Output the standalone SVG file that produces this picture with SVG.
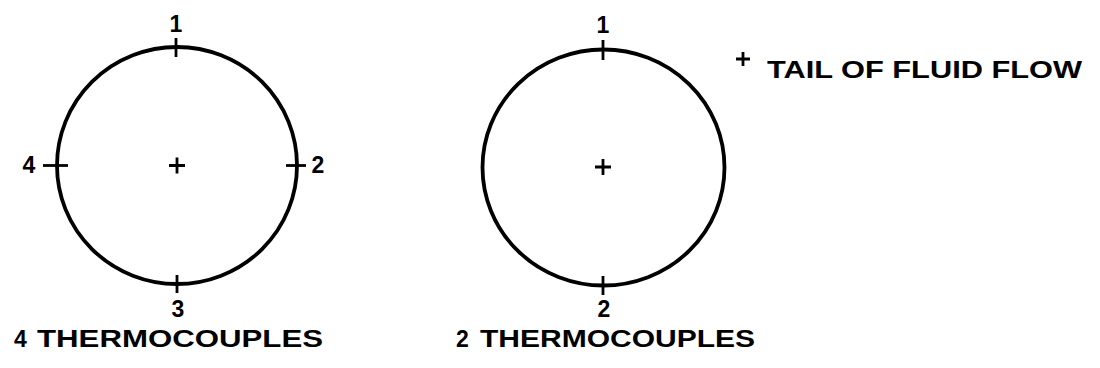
<svg xmlns="http://www.w3.org/2000/svg" width="1100" height="368" viewBox="0 0 1100 368">
<style>
.pipe{fill:none;stroke:#000;stroke-width:3.8}
.tick{stroke:#000;stroke-width:2.8;stroke-linecap:butt}
.lbl{font-family:"Liberation Sans",Arial,sans-serif;font-weight:bold;font-size:23px;fill:#000}
.num{text-anchor:middle}
</style>
<defs>
<path id="plus" d="M-8,0H8M0,-8V8" stroke="#000" stroke-width="2.8"/>
</defs>
<rect width="1100" height="368" fill="#fff"/>
<g id="left-section">
<ellipse class="pipe" cx="177" cy="165.5" rx="120" ry="118.5"/>
<line class="tick" x1="176" y1="38" x2="176" y2="57"/>
<line class="tick" x1="43" y1="165.5" x2="68" y2="165.5"/>
<line class="tick" x1="286" y1="165.5" x2="306" y2="165.5"/>
<line class="tick" x1="177" y1="275" x2="177" y2="293"/>
<use href="#plus" x="177" y="165.5"/>
<text class="lbl num" x="176" y="32">1</text>
<text class="lbl num" x="318" y="173">2</text>
<text class="lbl num" x="178" y="317">3</text>
<text class="lbl num" x="29" y="173">4</text>
<text class="lbl" x="14" y="347">4</text>
<text class="lbl" x="37" y="347" textLength="286" lengthAdjust="spacingAndGlyphs">THERMOCOUPLES</text>
</g>
<g id="right-section">
<ellipse class="pipe" cx="603.5" cy="167.5" rx="121" ry="118"/>
<line class="tick" x1="603" y1="40" x2="603" y2="60"/>
<line class="tick" x1="603" y1="276" x2="603" y2="295"/>
<use href="#plus" x="603" y="167"/>
<text class="lbl num" x="603" y="33">1</text>
<text class="lbl num" x="604" y="317">2</text>
<text class="lbl" x="456" y="347">2</text>
<text class="lbl" x="480" y="347" textLength="275" lengthAdjust="spacingAndGlyphs">THERMOCOUPLES</text>
</g>
<g id="legend">
<path d="M736,59H750M743,52V66" stroke="#000" stroke-width="2.8"/>
<text class="lbl" x="767" y="78" textLength="315" lengthAdjust="spacingAndGlyphs">TAIL OF FLUID FLOW</text>
</g>
<g id="connectors"/>
</svg>
